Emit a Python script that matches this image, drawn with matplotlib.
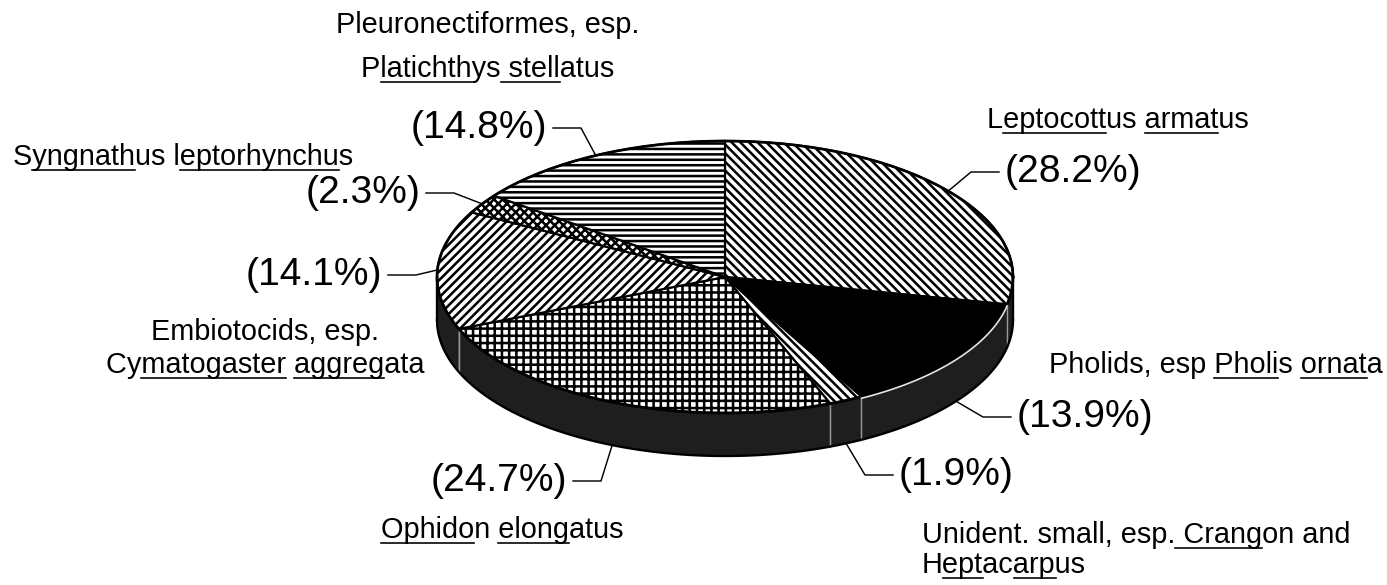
import numpy as np
import matplotlib
matplotlib.use('Agg')
import matplotlib.pyplot as plt
from matplotlib.patches import Polygon

plt.rcParams['font.family'] = ['Liberation Sans', 'DejaVu Sans']
plt.rcParams['hatch.linewidth'] = 1.4

# diet composition, clockwise from 12 o'clock
shares = [28.2, 13.9, 1.9, 24.7, 14.1, 2.3, 14.8]
pct_text = ['(%.1f%%)' % s for s in shares]
names = [
    [('Leptocottus armatus', ['eptocott', 'armat'])],
    [('Pholids, esp Pholis ornata', ['Pholi', 'ornat'])],
    [('Unident. small, esp. Crangon and', [' Crang']), ('Heptacarpus', ['ept', 'arp'])],
    [('Ophidon elongatus', ['Ophido', 'elong'])],
    [('Embiotocids, esp.', []), ('Cymatogaster aggregata', ['matogaster', 'aggreg'])],
    [('Syngnathus leptorhynchus', ['yngnath', 'eptorhynchu'])],
    [('Pleuronectiformes, esp.', []), ('Platichthys stellatus', ['latichth', ' stell'])],
]
hatches = ['\\' * 5, None, '\\' * 5, '+++', '/////', 'xxxxx', '----']
faces = ['white', 'black', 'white', 'white', 'white', 'white', 'white']

# layout (pixels)
W, H, DPI = 1387, 585, 130
cx, cy, rx, ry, depth = 725, 277, 288, 136, 43
name_pos = [(987, [128], 'left'), (1049, [373], 'left'), (922, [543, 573], 'left'),
            (381, [538], 'left'), (265, [340, 373], 'center'), (13, [165], 'left'),
            (488, [33, 77], 'center')]
pct_pos = [(1005, 172, 'left'), (1017, 417, 'left'), (899, 475, 'left'), (567, 481, 'right'),
           (382, 275, 'right'), (420, 193, 'right'), (547, 128, 'right')]
small_fs, big_fs = 16, 21.6

fig = plt.figure(figsize=(W / DPI, H / DPI), dpi=DPI)
ax = fig.add_axes([0, 0, 1, 1])
ax.set_xlim(0, W)
ax.set_ylim(H, 0)
ax.axis('off')


def pts(a, b, dz=0, n=120):
    t = np.radians(np.linspace(a, b, n))
    return np.column_stack([cx + rx * np.cos(t), cy - ry * np.sin(t) + dz])


total = sum(shares)
edges = 90 - 360 * np.concatenate([[0], np.cumsum(shares)]) / total

# side of the disc (front half only)
for i in range(len(shares)):
    lo, hi = max(edges[i + 1], -180), min(edges[i], 0)
    if lo >= hi:
        continue
    top = pts(lo, hi)
    bot = pts(hi, lo, depth)
    ax.add_patch(Polygon(np.vstack([top, bot]), closed=True, facecolor='#1e1e1e',
                         edgecolor='none', zorder=1))
for e in edges[1:-1]:
    if -180 < e < 0:
        p = pts(e, e, 0, 2)
        ax.plot([p[0, 0], p[0, 0]], [p[0, 1], p[0, 1] + depth], color='#9a9a9a', lw=0.8, zorder=1.5)
ax.plot(*pts(-180, 0, depth).T, color='black', lw=1.3, zorder=3)
for e in (0, -180):
    p = pts(e, e, 0, 2)[0]
    ax.plot([p[0], p[0]], [p[1], p[1] + depth], color='black', lw=1.3, zorder=3)

# top of the disc
for i in range(len(shares)):
    poly = np.vstack([[cx, cy], pts(edges[i], edges[i + 1])])
    ax.add_patch(Polygon(poly, closed=True, facecolor=faces[i], edgecolor='black',
                         hatch=hatches[i], lw=1.2, zorder=2))
ax.plot(*pts(0, 360).T, color='black', lw=1.5, zorder=3)
ax.plot(*pts(edges[2], edges[1], 1.5).T, color='#e8e8e8', lw=0.9, zorder=3.5)

# percentage labels with leader lines
for i in range(len(shares)):
    x, y, ha = pct_pos[i]
    ax.text(x, y, pct_text[i], fontsize=big_fs, ha=ha, va='center', zorder=4)
    mid = (edges[i] + edges[i + 1]) / 2
    front = np.sin(np.radians(mid)) < 0
    ap = pts(mid, mid, depth if front else 0, 2)[0]
    s = 1 if ha == 'right' else -1
    ax.plot([x + s * 6, x + s * 34, ap[0]], [y, y, ap[1]], color='black', lw=0.8, zorder=4)

# species names with partial underlines
fig.canvas.draw()
r = fig.canvas.get_renderer()


def width(s):
    t = ax.text(0, 0, s + 'l', fontsize=small_fs)
    w = t.get_window_extent(r).width
    t.set_text('l')
    w -= t.get_window_extent(r).width
    t.remove()
    return w


for i in range(len(names)):
    x, ys, ha = name_pos[i]
    for (line, unders), y in zip(names[i], ys):
        t = ax.text(x, y, line, fontsize=small_fs, ha=ha, va='baseline', zorder=4)
        x0 = t.get_window_extent(r).x0
        for u in unders:
            k = line.rindex(u)
            a = x0 + width(line[:k])
            b = x0 + width(line[:k + len(u)])
            ax.plot([a, b], [y + 5, y + 5], color='black', lw=0.9, zorder=4)

fig.savefig('out.png', dpi=DPI)
